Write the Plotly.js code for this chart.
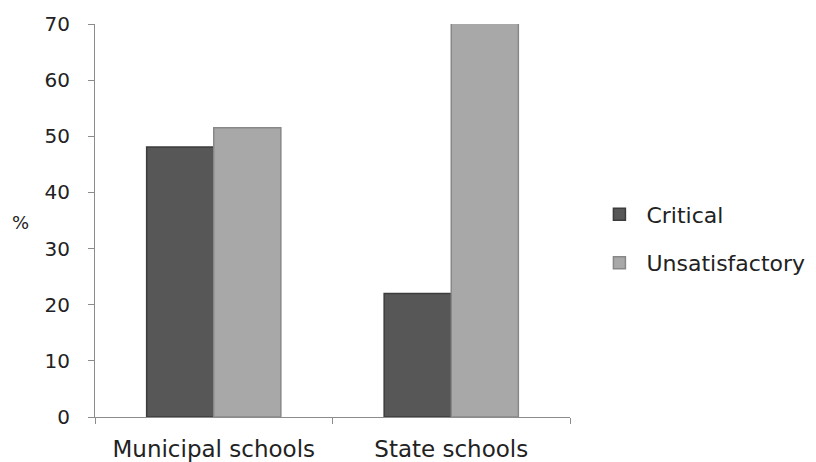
<!DOCTYPE html>
<html><head><meta charset="utf-8">
<script src="https://cdn.plot.ly/plotly-3.0.1.min.js"></script>
<style>body{margin:0;background:#fff}#c{width:816px;height:462px}</style>
</head><body><div id="c"></div>
<script>
const categories = ["Municipal schools", "State schools"];
const critical = [48.1, 22.0];
const unsatisfactory = [51.5, 78];
const yTicks = [0, 10, 20, 30, 40, 50, 60, 70];

const traces = [
  {type:"bar", name:"Critical", x:categories, y:critical, legendgroup:"a",
   marker:{color:"#575757", line:{color:"#3c3c3c", width:1.5}}},
  {type:"bar", name:"Unsatisfactory", x:categories, y:unsatisfactory, legendgroup:"b",
   marker:{color:"#a8a8a8", line:{color:"#888888", width:1.5}}}
];
const layout = {
  width:816, height:462,
  margin:{l:95, r:246, t:24, b:45},
  paper_bgcolor:"#fff", plot_bgcolor:"#fff",
  font:{family:"DejaVu Sans, Verdana, sans-serif", color:"#222", size:20},
  barmode:"group", bargap:0.435, bargroupgap:0,
  showlegend:true,
  legend:{xref:"container", yref:"container", x:0.726, xanchor:"left", y:0.483, yanchor:"middle",
          tracegroupgap:17, font:{size:22, color:"#222"}, itemwidth:44},
  xaxis:{showline:true, linecolor:"#8c8c8c", linewidth:1, ticks:"outside", tickson:"boundaries",
         ticklen:6, tickcolor:"#8c8c8c", tickfont:{size:23, color:"#222"}, showgrid:false,
         ticklabelstandoff:11, automargin:false},
  yaxis:{range:[0,70], tickvals:yTicks, showline:true, linecolor:"#8c8c8c", linewidth:1,
         ticks:"outside", ticklen:6, tickcolor:"#8c8c8c", showgrid:false, zeroline:false,
         ticklabelstandoff:14, tickfont:{size:20, color:"#222"}},
  annotations:[{text:"%", xref:"paper", yref:"paper", x:-0.156, xanchor:"center", y:0.496,
                yanchor:"middle", showarrow:false, font:{size:18, color:"#222"}}]
};
Plotly.newPlot("c", traces, layout, {displayModeBar:false, staticPlot:true});
</script></body></html>
